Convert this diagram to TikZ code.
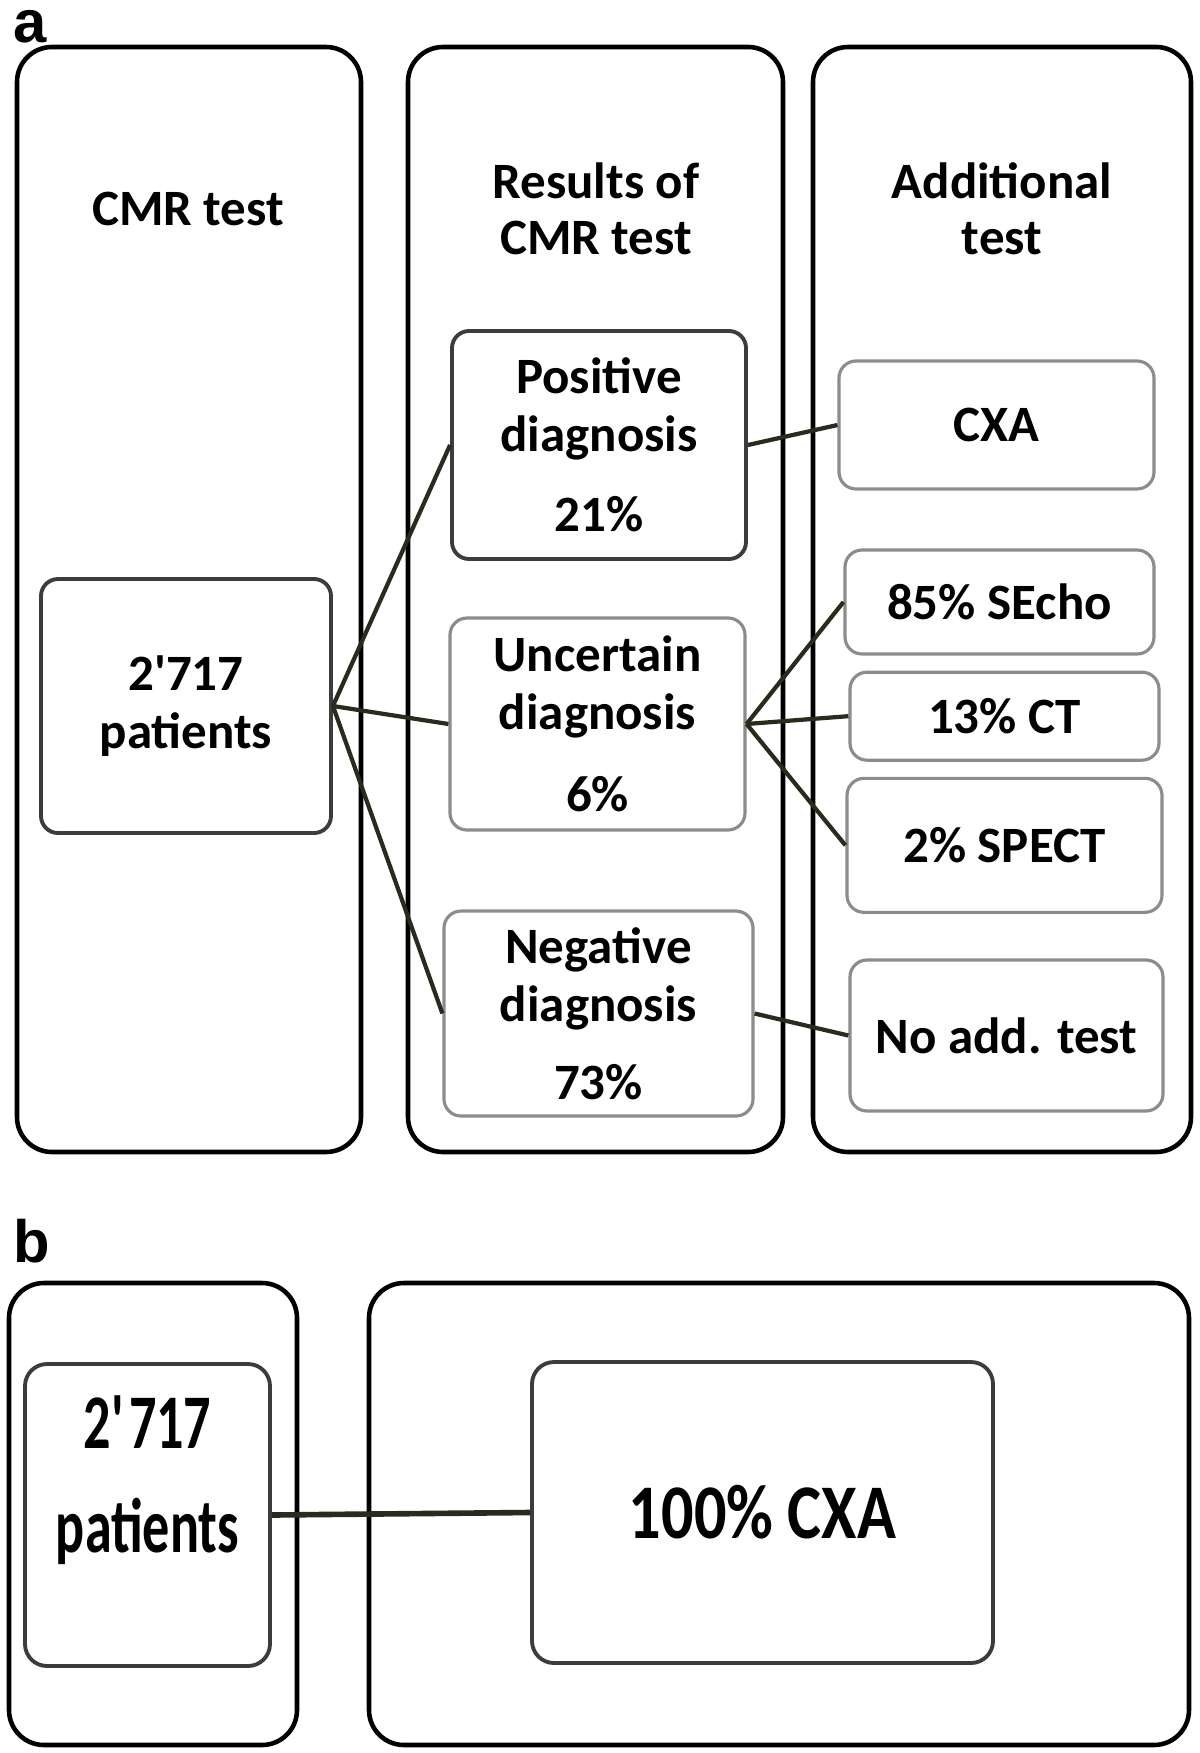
\documentclass[tikz,border=0pt]{standalone}
\usepackage{fontspec}
\setmainfont{Carlito}
\newfontfamily\panelfont{Liberation Sans}
\newfontfamily\narrowfont{Carlito}[FakeStretch=0.70]
\newfontfamily\cxafont{Carlito}[FakeStretch=0.83]
\usetikzlibrary{positioning}
\definecolor{cmrlink}{HTML}{2B2A1C}
\definecolor{cmrgrey}{HTML}{8C8C8C}
\definecolor{cmrdark}{HTML}{3C3C3C}
\tikzset{
  colbox/.style={
    rectangle,
    rounded corners=3.5mm,
    draw=black,
    line width=1.3pt,
    inner sep=0pt
  },
  headtext/.style={align=center, font=\fontsize{14.5}{16}\selectfont\bfseries},
  diagbox/.style={
    rectangle,
    rounded corners=1.7mm,
    draw=cmrgrey,
    line width=0.9pt,
    align=center,
    inner sep=0pt,
    font=\fontsize{14.5}{16.5}\selectfont\bfseries
  },
  diagdark/.style={diagbox, draw=cmrdark, line width=1.1pt},
  bigbox/.style={diagdark, rounded corners=2.2mm},
  bigtext/.style={align=center, inner sep=0pt, font=\narrowfont\fontsize{22}{29.6}\selectfont\bfseries},
  linkline/.style={draw=cmrlink, line width=1.2pt},
  panellabel/.style={font=\panelfont\fontsize{17}{17}\selectfont\bfseries, inner sep=0pt, anchor=base west}
}
\begin{document}
\begin{tikzpicture}[x=0.1mm, y=-0.1mm]
\useasboundingbox (0,0) rectangle (1200,1753);
% panel a
\node[panellabel] (labA) at (13,42) {a};
\node[colbox, minimum width=34.4mm, minimum height=110.5mm] (colA) at (189,599.5) {};
\node[colbox, minimum width=37.5mm, minimum height=110.5mm] (colB) at (595.5,599.5) {};
\node[colbox, minimum width=37.8mm, minimum height=110.5mm] (colC) at (1002,599.5) {};
\node[headtext] (hdrA) at (188,209) {CMR test};
\node[headtext] (hdrB) at (596,209) {Results of\\CMR test};
\node[headtext] (hdrC) at (1002,209) {Additional\\test};
\node[diagdark, minimum width=29mm, minimum height=25.4mm] (pat) at (186,706) {2\textquotesingle717\\patients};
\node[diagdark, minimum width=29.4mm, minimum height=22.8mm] (pos) at (599,445) {Positive\\diagnosis\\[2.2mm]21\%};
\node[diagbox, minimum width=29.5mm, minimum height=21.2mm] (unc) at (597.5,724) {Uncertain\\diagnosis\\[2.4mm]6\%};
\node[diagbox, minimum width=30.9mm, minimum height=20.5mm] (neg) at (598.5,1013.5) {Negative\\diagnosis\\[2mm]73\%};
\node[diagbox, minimum width=31.5mm, minimum height=12.8mm] (cxa) at (996.5,425) {CXA};
\node[diagbox, minimum width=30.9mm, minimum height=10.4mm] (secho) at (999.5,602) {85\% SEcho};
\node[diagbox, minimum width=30.9mm, minimum height=8.8mm, below=1.5mm of secho, xshift=0.5mm] (ct) {13\% CT};
\node[diagbox, minimum width=31.5mm, minimum height=13.4mm, below=1.5mm of ct] (spect) {2\% SPECT};
\node[diagbox, minimum width=31.3mm, minimum height=15.1mm] (noadd) at (1006.5,1035.5) {No add. test};
\draw[linkline] (pat.east) -- (pos.west);
\draw[linkline] (pat.east) -- (unc.west);
\draw[linkline] (pat.east) -- (neg.west);
\draw[linkline] (pos.east) -- (cxa.west);
\draw[linkline] (unc.east) -- (secho.west);
\draw[linkline] (unc.east) -- (ct.west);
\draw[linkline] (unc.east) -- (spect.west);
\draw[linkline] (neg.east) -- (noadd.west);
% panel b
\node[panellabel] (labB) at (13,1262) {b};
\node[colbox, minimum width=28.8mm, minimum height=46.2mm] (colD) at (153,1514) {};
\node[colbox, minimum width=82mm, minimum height=46.2mm] (colE) at (779,1514) {};
\node[bigbox, minimum width=24.5mm, minimum height=30.2mm] (patb) at (147.5,1515) {};
\node[bigtext] (patbtxt) at (147.5,1480) {2\textquotesingle717\\patients};
\node[bigbox, minimum width=46.1mm, minimum height=30.1mm, font=\cxafont\fontsize{22}{29.6}\selectfont\bfseries] (cxab) at (762.5,1512.5) {100\% CXA};
\draw[linkline, line width=1.6pt] (patb.east) -- (cxab.west);
\end{tikzpicture}
\end{document}
